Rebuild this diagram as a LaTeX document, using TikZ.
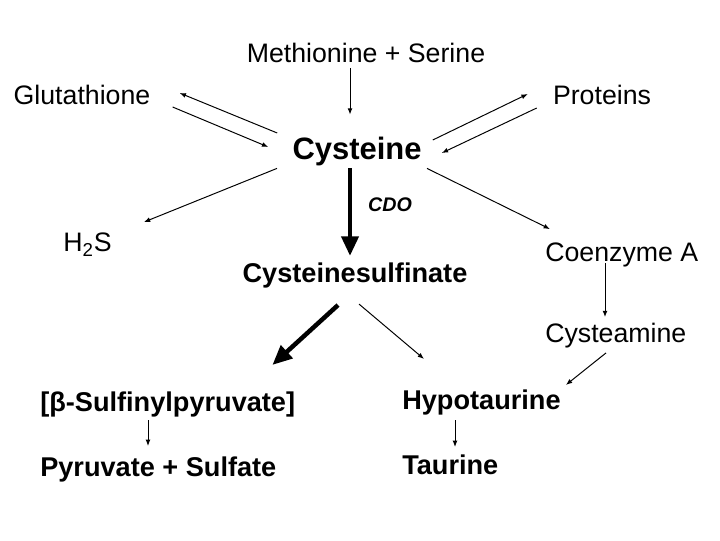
\documentclass[tikz,border=0pt]{standalone}
\usepackage{fontspec}
\setmainfont{Liberation Sans}
\usetikzlibrary{arrows.meta}
\begin{document}
\begin{tikzpicture}[x=0.025cm,y=-0.025cm,
  plain/.style={font=\fontsize{19}{23}\selectfont, inner sep=0pt, text height=13.7pt, text depth=0pt},
  chem/.style={font=\fontsize{19.3}{23}\selectfont\bfseries, inner sep=0pt, text height=13.9pt, text depth=0pt},
  big/.style={font=\fontsize{22}{26}\selectfont\bfseries, inner sep=0pt, text height=15.8pt, text depth=0pt},
  arr/.style={line width=0.7pt, -{Latex[length=4.5pt,width=3.5pt]}},
  fat/.style={line width=3.2pt, -{Triangle[length=14pt,width=12pt]}}]
\useasboundingbox (0,0) rectangle (720,540);
\node[plain] (meth) at (366,53) {Methionine + Serine};
\node[plain] (glu) at (82,95) {Glutathione};
\node[plain] (prot) at (602,95) {Proteins};
\node[big] (cys) at (357,148) {Cysteine};
\node[font=\fontsize{14}{16}\selectfont\bfseries\itshape, inner sep=0pt] (cdo) at (390,205) {CDO};
\node[plain] (h2s) at (87.5,242) {H\textsubscript{2}S};
\node[chem] (csa) at (355,273) {Cysteinesulfinate};
\node[plain, anchor=west] (coa) at (545,252) {Coenzyme A};
\node[plain, anchor=west] (cam) at (545,333) {Cysteamine};
\node[chem, anchor=west] (bsp) at (40,402) {[β-Sulfinylpyruvate]};
\node[chem, anchor=west] (pys) at (40,467) {Pyruvate + Sulfate};
\node[chem, anchor=west] (hyp) at (402,400) {Hypotaurine};
\node[chem, anchor=west] (tau) at (402,465) {Taurine};
% into and out of cysteine
\draw[arr] ([shift={(-16,5.3)}]meth.south) -- ([shift={(-7,-22)}]cys.north);
\draw[arr] ([shift={(-15,-15)}]cys.west) -- ([shift={(29,-2)}]glu.east);
\draw[arr] ([shift={(22,12)}]glu.east) -- ([shift={(-24,-1)}]cys.west);
\draw[arr] ([shift={(11,-8)}]cys.east) -- ([shift={(-25,-1)}]prot.west);
\draw[arr] ([shift={(-16,13)}]prot.west) -- ([shift={(20,5)}]cys.east);
\draw[arr] ([shift={(-80,9)}]cys.south) -- ([shift={(32,-10)}]h2s.north east);
\draw[arr] ([shift={(70,9)}]cys.south) -- ([shift={(5,-13)}]coa.north west);
\draw[fat] ([shift={(-7,9)}]cys.south) -- ([shift={(-5,-7)}]csa.north);
% sulfinate branches
\draw[fat] ([shift={(-17,22)}]csa.south) -- ([shift={(-23,-27)}]bsp.north east);
\draw[arr] ([shift={(4,21)}]csa.south) -- ([shift={(22,-31)}]hyp.north west);
\draw[arr] ([shift={(60,1.3)}]coa.south west) -- ([shift={(60,-6)}]cam.north west);
\draw[arr] ([shift={(61,10)}]cam.south west) -- ([shift={(5,-5)}]hyp.north east);
\draw[arr] ([shift={(108,8)}]bsp.south west) -- ([shift={(108,-11)}]pys.north west);
\draw[arr] ([shift={(53,10)}]hyp.south west) -- ([shift={(53,-8)}]tau.north west);
\end{tikzpicture}
\end{document}
